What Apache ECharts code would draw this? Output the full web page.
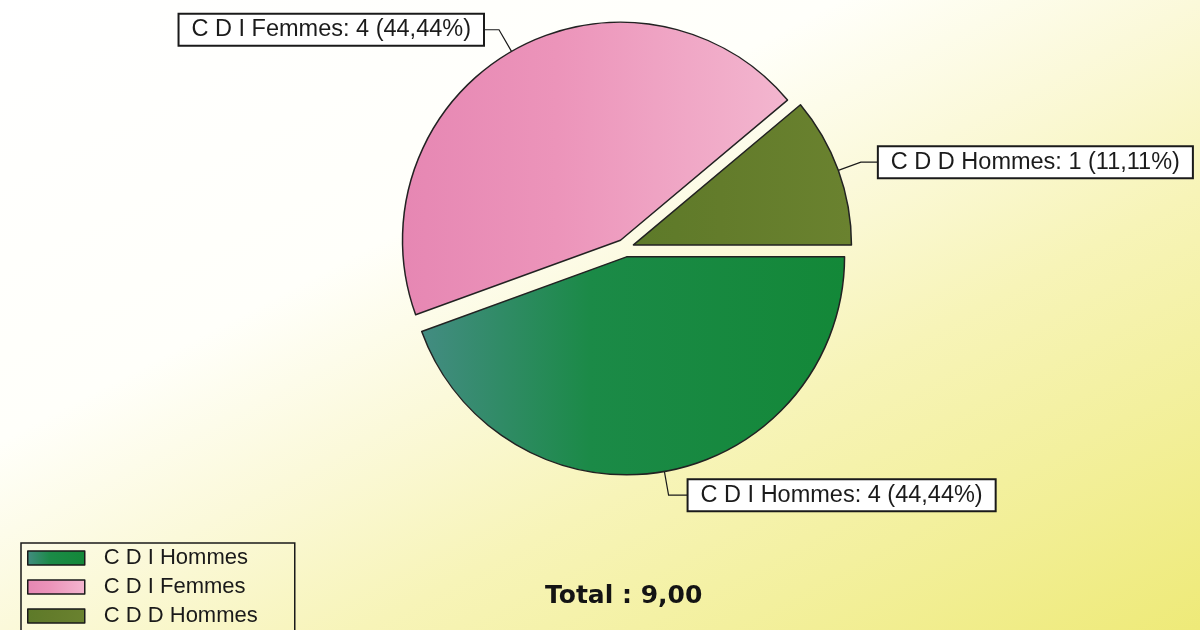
<!DOCTYPE html>
<html>
<head>
<meta charset="utf-8">
<script src="https://cdn.jsdelivr.net/npm/echarts@6/dist/echarts.min.js"></script>
<style>
  html, body { margin: 0; padding: 0; }
  #chart { width: 1200px; height: 630px; }
</style>
</head>
<body>
<div id="chart"></div>
<script>
const categories = ['C D I Hommes', 'C D I Femmes', 'C D D Hommes']
const values = [4, 4, 1]
const sliceColors = [
  ['#438c82', '#1b8a47', '#138838'],
  ['#e687b3', '#ec94ba', '#f3b6cf'],
  ['#5d7a29', '#637c2b', '#6a822f']
]
// leader line lengths per slice [radial, horizontal]
const leaderLen = [[24, 20], [25, 16], [24, 18]]

const total = values.reduce((a, b) => a + b, 0)
const fmt = (n) => n.toFixed(2).replace('.', ',')

const chart = echarts.init(document.getElementById('chart'), null, { renderer: 'canvas' })

const grad = (stops) => new echarts.graphic.LinearGradient(0, 0, 1, 0, [
  { offset: 0, color: stops[0] },
  { offset: 0.4, color: stops[1] },
  { offset: 1, color: stops[2] }
])

// corner-to-corner background, like css "to bottom right"
const W = 1200, H = 630
const k = (2 * W * H) / (W * W + H * H)

chart.setOption({
  backgroundColor: new echarts.graphic.LinearGradient(0, 0, H * k, W * k, [
    { offset: 0, color: '#ffffff' },
    { offset: 0.35, color: '#fffffa' },
    { offset: 0.5, color: '#fbf9da' },
    { offset: 0.65, color: '#f7f4b8' },
    { offset: 0.8, color: '#f3f09e' },
    { offset: 1, color: '#eeea78' }
  ], true),
  animation: false,
  legend: {
    orient: 'vertical',
    left: 21,
    top: 543,
    height: 120,
    padding: [4, 37, 12, 6],
    itemGap: 7,
    itemWidth: 57,
    itemHeight: 14,
    icon: 'rect',
    borderColor: '#1a1a1a',
    borderWidth: 1.5,
    itemStyle: { borderColor: '#1a1a1a', borderWidth: 1.5 },
    textStyle: {
      fontFamily: 'Liberation Sans',
      fontSize: 22,
      color: '#1a1a1a',
      padding: [0, 0, 0, 14]
    },
    data: categories
  },
  graphic: [
    {
      type: 'text',
      left: 545,
      top: 584,
      style: {
        text: 'Total : ' + fmt(total),
        font: 'bold 25px "DejaVu Sans"',
        fill: '#141414'
      }
    }
  ],
  series: [
    {
      type: 'pie',
      center: [625, 248],
      radius: 218,
      startAngle: 0,
      clockwise: true,
      selectedMode: 'multiple',
      selectedOffset: 9,
      avoidLabelOverlap: false,
      itemStyle: { borderColor: '#222', borderWidth: 1.5 },
      label: {
        position: 'outside',
        fontFamily: 'Liberation Sans',
        fontSize: 23.5,
        lineHeight: 25,
        color: '#1b1b1b',
        backgroundColor: '#ffffff',
        borderColor: '#1a1a1a',
        borderWidth: 2,
        padding: [3, 12, 2, 12],
        distanceToLabelLine: 0,
        formatter: (p) => p.name + ': ' + p.value + ' (' + fmt(p.value / total * 100) + '%)'
      },
      labelLine: {
        show: true,
        lineStyle: { color: '#1a1a1a', width: 1.2 }
      },
      emphasis: { disabled: true },
      data: categories.map((name, i) => ({
        name: name,
        value: values[i],
        selected: true,
        itemStyle: { color: grad(sliceColors[i]) },
        labelLine: { length: leaderLen[i][0], length2: leaderLen[i][1] }
      }))
    }
  ]
})
</script>
</body>
</html>
